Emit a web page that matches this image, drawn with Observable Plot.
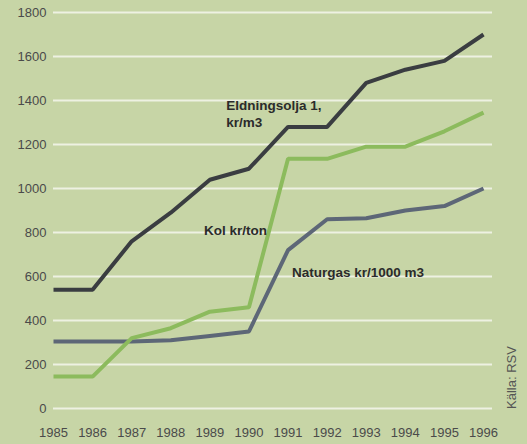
<!DOCTYPE html>
<html>
<head>
<meta charset="utf-8">
<script src="https://cdn.jsdelivr.net/npm/d3@7"></script>
<script src="https://cdn.jsdelivr.net/npm/@observablehq/plot@0.6"></script>
<style>
  html, body { margin: 0; padding: 0; background: #c7d5a6; }
  #chart svg { display: block; }
</style>
</head>
<body>
<div id="chart"></div>
<script>
const years = [1985, 1986, 1987, 1988, 1989, 1990, 1991, 1992, 1993, 1994, 1995, 1996];
const eldningsolja = [540, 540, 760, 890, 1040, 1090, 1280, 1280, 1480, 1540, 1580, 1700];
const kol = [145, 145, 320, 365, 440, 460, 1135, 1135, 1190, 1190, 1260, 1345];
const naturgas = [305, 305, 305, 310, 330, 350, 720, 860, 865, 900, 920, 1000];
const yTicks = [0, 200, 400, 600, 800, 1000, 1200, 1400, 1600, 1800];
const seriesNames = ["Eldningsolja 1, kr/m3", "Kol kr/ton", "Naturgas kr/1000 m3"];
const seriesColors = ["#3a3d41", "#8cbb5d", "#5d6777"];
const labelTexts = ["Eldningsolja 1,\nkr/m3", "Kol kr/ton", "Naturgas kr/1000 m3"];
const labelYears = [1989.42, 1988.85, 1991.1];
const labelValues = [1342, 814, 623];
const source = "Källa: RSV";

const rows = [];
[eldningsolja, naturgas, kol].forEach((arr, k) => {
  const name = [seriesNames[0], seriesNames[2], seriesNames[1]][k];
  arr.forEach((v, i) => rows.push({year: years[i], value: v, series: name}));
});
const labels = labelTexts.map((t, i) => ({text: t, year: labelYears[i], value: labelValues[i]}));

const chart = Plot.plot({
  width: 527,
  height: 444,
  marginLeft: 53,
  marginRight: 35,
  marginTop: 12,
  marginBottom: 36,
  style: {background: "#c7d5a6", fontFamily: "'Liberation Sans', sans-serif"},
  x: {domain: [1985, 1996.23], label: null},
  y: {domain: [0, 1800], label: null},
  color: {domain: seriesNames, range: seriesColors},
  marks: [
    Plot.ruleY(yTicks, {stroke: "#eef1e2", strokeWidth: 2}),
    Plot.axisX({ticks: years, tickFormat: d => String(d), tickSize: 0, tickPadding: 19, fontSize: 13, fill: "#4a4a4a", label: null}),
    Plot.axisY({ticks: yTicks, tickFormat: d => String(d), tickSize: 0, tickPadding: 7, fontSize: 13, fill: "#4a4a4a", label: null}),
    Plot.line(rows, {x: "year", y: "value", z: "series", stroke: "series", strokeWidth: 4, strokeLinejoin: "miter", strokeLinecap: "butt"}),
    Plot.text(labels, {x: "year", y: "value", text: "text", textAnchor: "start", lineAnchor: "middle", lineHeight: 1.25, fontSize: 13.5, fontWeight: "bold", fill: "#2b2b2b"}),
    Plot.text([source], {frameAnchor: "bottom-right", rotate: -90, dx: 23, dy: -31, textAnchor: "middle", fontSize: 13, fill: "#555"})
  ]
});
document.getElementById("chart").appendChild(chart);
</script>
</body>
</html>
